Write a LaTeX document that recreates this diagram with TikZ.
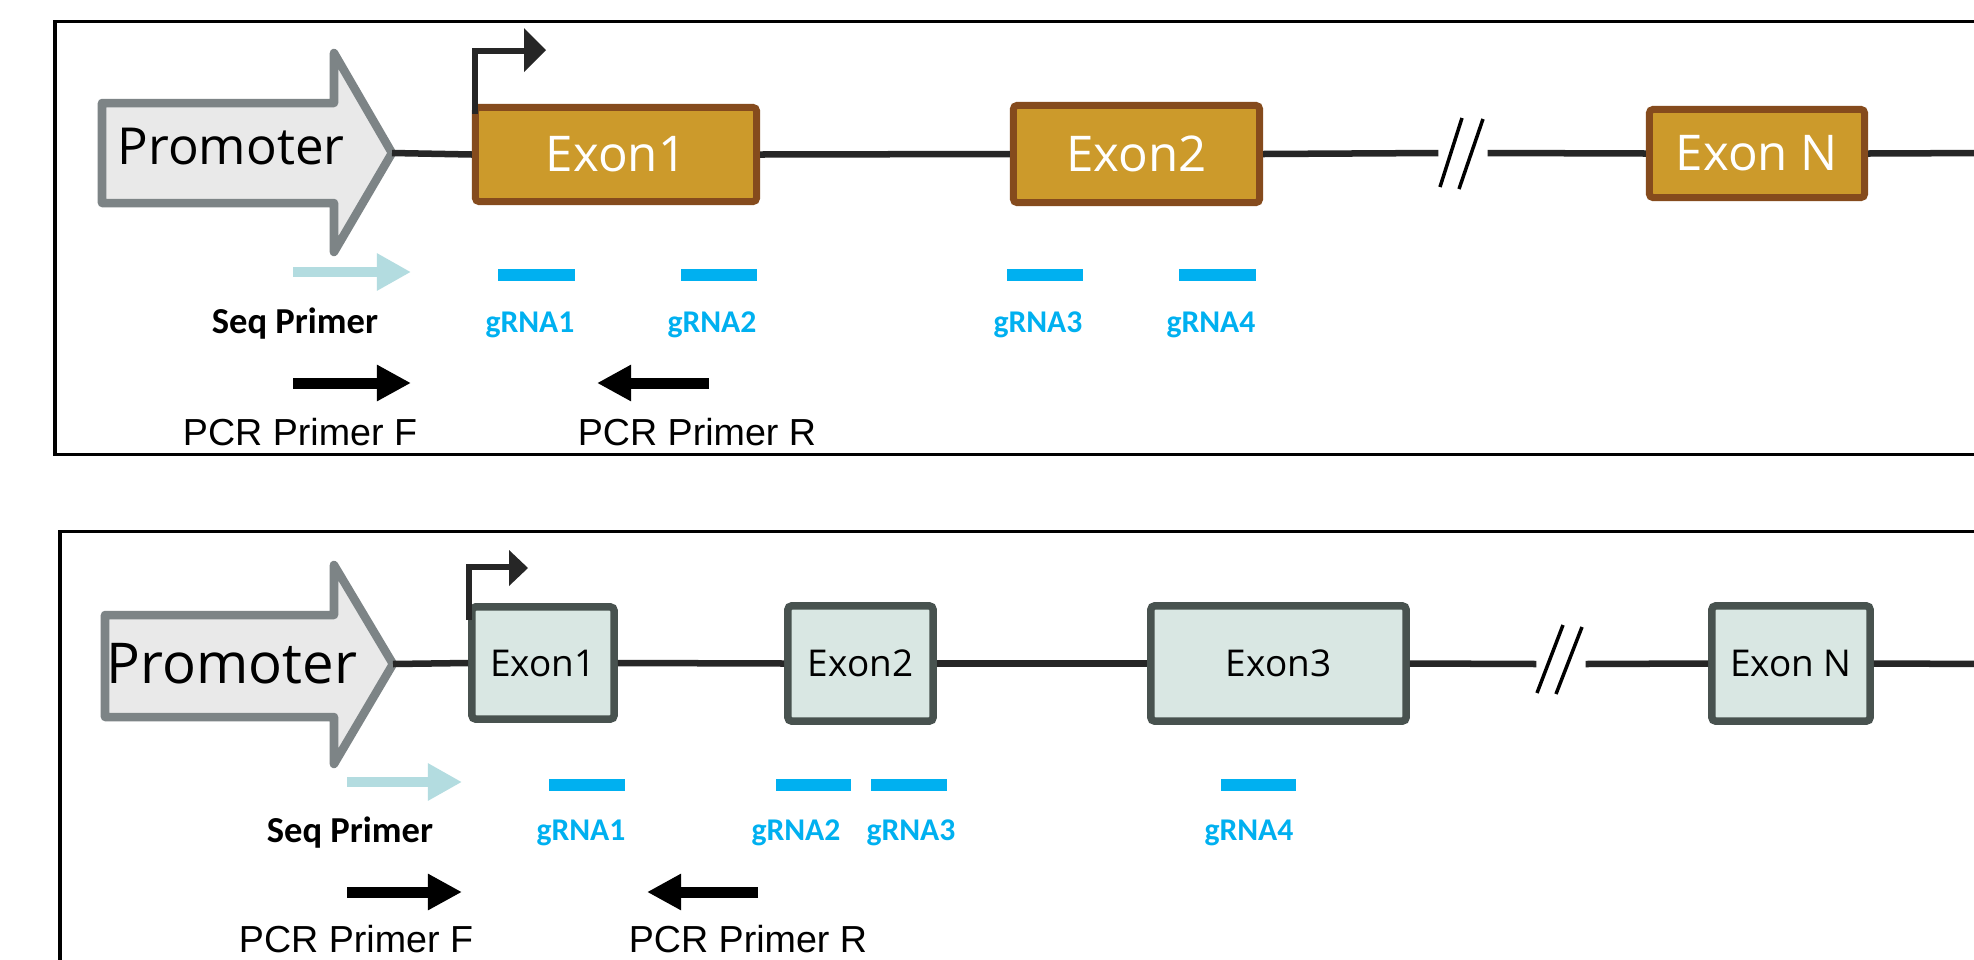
\documentclass[tikz,border=0pt]{standalone}
\usepackage{fontspec}
\setmainfont{Liberation Sans}
\newfontfamily\exonfont{Open Sans}
\newfontfamily\grnafont{Carlito}
\usetikzlibrary{arrows.meta}
\definecolor{exonA}{HTML}{CC9A2B}
\definecolor{exonlineA}{HTML}{854B1D}
\definecolor{exonB}{HTML}{D9E7E3}
\definecolor{exonlineB}{HTML}{48524F}
\definecolor{promfill}{HTML}{E9E9E9}
\definecolor{promline}{HTML}{7D8486}
\definecolor{geneline}{HTML}{262626}
\definecolor{grna}{HTML}{00B0F0}
\definecolor{seqcol}{HTML}{B3DCE0}

\begin{document}
\begin{tikzpicture}[x=0.01cm,y=-0.01cm,
		exA/.style={draw=exonlineA,fill=exonA,line width=0.07cm,rounded corners=1pt,inner sep=0pt,text=white,font=\exonfont\fontsize{14}{16}\selectfont},
		exB/.style={draw=exonlineB,fill=exonB,line width=0.075cm,rounded corners=1pt,inner sep=0pt,font=\exonfont\fontsize{10.5}{12}\selectfont},
		prom/.style={draw=promline,fill=promfill,line width=0.085cm,line join=round},
		gene/.style={draw=geneline,line width=0.065cm},
		tss/.style={draw=geneline,line width=0.065cm,line join=miter},
		guide/.style={fill=grna,inner sep=0pt,minimum height=0.12cm},
		glabel/.style={text=grna,anchor=base,font=\grnafont\bfseries\fontsize{9}{11}\selectfont},
		seqlabel/.style={anchor=base,font=\grnafont\bfseries\fontsize{10.4}{12}\selectfont},
		pcrlabel/.style={anchor=base,font=\fontsize{10.7}{13}\selectfont},
		seqarrow/.style={draw=seqcol,line width=0.10cm,-{Triangle[length=0.34cm,width=0.35cm]}},
		pcrarrow/.style={draw=black,line width=0.11cm,-{Triangle[length=0.34cm,width=0.34cm]}},
		brk/.style={inner sep=0pt,minimum width=0.48cm,minimum height=0.2cm},
		slash/.style={draw=black,line width=0.035cm}]
	\clip (0,0) rectangle (1974,960);
	\fill[white] (0,0) rectangle (1974,960);

	\draw[line width=0.03cm] (55,21) rectangle (2000,454);
	\draw[prom] (102,103) -- (334,103) -- (334,53) -- (392,153) -- (334,252) -- (334,203) -- (102,203) -- cycle;
	\coordinate (ptipA) at (392,153);
	\node[font=\exonfont\fontsize{14.5}{17}\selectfont] (promA) at (231,147) {Promoter};
	\node[exA,minimum width=2.81cm,minimum height=0.94cm] (e1A) at (616,154.5) {Exon1};
	\node[exA,minimum width=2.46cm,minimum height=0.97cm] (e2A) at (1136.5,154) {Exon2};
	\node[brk] (bkA) at (1463,153) {};
	\node[exA,minimum width=2.15cm,minimum height=0.88cm] (eNA) at (1757,153.5) {Exon N};
	\coordinate (endA) at (1990,153);
	\node[guide,minimum width=0.77cm] (g1A) at (536.5,275) {};
	\node[guide,minimum width=0.76cm] (g2A) at (719,275) {};
	\node[guide,minimum width=0.76cm] (g3A) at (1045,275) {};
	\node[guide,minimum width=0.77cm] (g4A) at (1217.5,275) {};
	\node[seqlabel] (seqA) at (295,333) {Seq Primer};
	\node[glabel] (l1A) at (530,332) {gRNA1};
	\node[glabel] (l2A) at (712,332) {gRNA2};
	\node[glabel] (l3A) at (1038,332) {gRNA3};
	\node[glabel] (l4A) at (1211,332) {gRNA4};
	\coordinate (sfA) at (293,272);
	\coordinate (stA) at (411,272);
	\coordinate (ffA) at (293,383);
	\coordinate (ftA) at (411,383);
	\coordinate (rfA) at (709,383);
	\coordinate (rtA) at (597,383);
	\node[pcrlabel] (pfA) at (300,445) {PCR Primer F};
	\node[pcrlabel] (prA) at (697,445) {PCR Primer R};

	\draw[gene] (ptipA) -- (e1A.west);
	\draw[gene] (e1A.east) -- (e2A.west);
	\draw[gene] (e2A.east) -- (bkA.west);
	\draw[gene] (bkA.east) -- (eNA.west);
	\draw[gene] (eNA.east) -- (endA);
	\draw[slash] ([shift={(-1,-35)}]bkA.center) -- ([shift={(-23,34)}]bkA.center);
	\draw[slash] ([shift={(20,-34)}]bkA.center) -- ([shift={(-4,36)}]bkA.center);
	\draw[tss] ([shift={(3,10)}]e1A.north west) -- ++(0,-63) -- ++(52,0);
	\fill[geneline] (524,28) -- (546,50) -- (524,72) -- cycle;
	\draw[seqarrow] (sfA) -- (stA);
	\draw[pcrarrow] (ffA) -- (ftA);
	\draw[pcrarrow] (rfA) -- (rtA);

	\draw[line width=0.03cm] (60,531) rectangle (2000,1000);
	\draw[prom] (105,615) -- (334,615) -- (334,565) -- (393,664) -- (334,764) -- (334,717) -- (105,717) -- cycle;
	\coordinate (ptipB) at (393,664);
	\node[font=\exonfont\fontsize{16}{19}\selectfont] (promB) at (232,664) {Promoter};
	\node[exB,minimum width=1.42cm,minimum height=1.12cm] (e1B) at (543,663) {Exon1};
	\node[exB,minimum width=1.45cm,minimum height=1.15cm] (e2B) at (860.5,663.5) {Exon2};
	\node[exB,minimum width=2.55cm,minimum height=1.15cm] (e3B) at (1278.5,663.5) {Exon3};
	\node[brk] (bkB) at (1561,664) {};
	\node[exB,minimum width=1.58cm,minimum height=1.15cm] (eNB) at (1791,663.5) {Exon N};
	\coordinate (endB) at (1990,664);
	\node[guide,minimum width=0.76cm] (g1B) at (587,785) {};
	\node[guide,minimum width=0.75cm] (g2B) at (813.5,785) {};
	\node[guide,minimum width=0.76cm] (g3B) at (909,785) {};
	\node[guide,minimum width=0.75cm] (g4B) at (1258.5,785) {};
	\node[seqlabel] (seqB) at (350,842) {Seq Primer};
	\node[glabel] (l1B) at (581,840) {gRNA1};
	\node[glabel] (l2B) at (796,840) {gRNA2};
	\node[glabel] (l3B) at (911,840) {gRNA3};
	\node[glabel] (l4B) at (1249,840) {gRNA4};
	\coordinate (sfB) at (347,782);
	\coordinate (stB) at (462,782);
	\coordinate (ffB) at (347,892);
	\coordinate (ftB) at (462,892);
	\coordinate (rfB) at (758,892);
	\coordinate (rtB) at (647,892);
	\node[pcrlabel] (pfB) at (356,952) {PCR Primer F};
	\node[pcrlabel] (prB) at (748,952) {PCR Primer R};

	\draw[gene] (ptipB) -- (e1B.west);
	\draw[gene] (e1B.east) -- (e2B.west);
	\draw[gene] (e2B.east) -- (e3B.west);
	\draw[gene] (e3B.east) -- (bkB.west);
	\draw[gene] (bkB.east) -- (eNB.west);
	\draw[gene] (eNB.east) -- (endB);
	\draw[slash] ([shift={(2,-39)}]bkB.center) -- ([shift={(-24,29)}]bkB.center);
	\draw[slash] ([shift={(21,-37)}]bkB.center) -- ([shift={(-5,30)}]bkB.center);
	\draw[tss] ([shift={(1,17)}]e1B.north west) -- ++(0,-53) -- ++(42,0);
	\fill[geneline] (509,550) -- (528,568) -- (509,586) -- cycle;
	\draw[seqarrow] (sfB) -- (stB);
	\draw[pcrarrow] (ffB) -- (ftB);
	\draw[pcrarrow] (rfB) -- (rtB);
\end{tikzpicture}
\end{document}
